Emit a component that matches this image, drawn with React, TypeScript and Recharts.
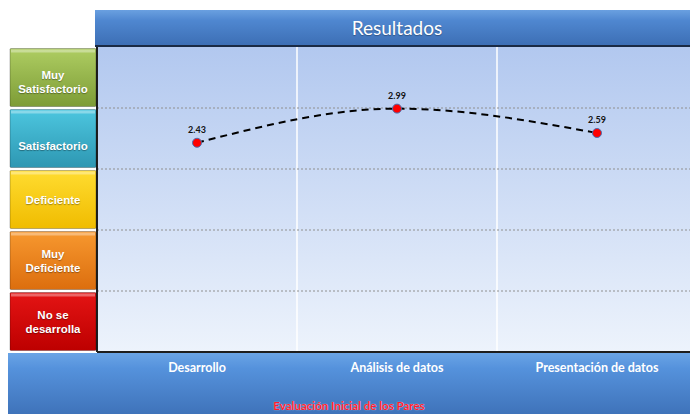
import { LineChart, Line, XAxis, YAxis, CartesianGrid, LabelList } from 'recharts';

const categories = ['Desarrollo', 'Análisis de datos', 'Presentación de datos'];
const scores = [2.43, 2.99, 2.59];
const levelNames = [['Muy', 'Satisfactorio'], ['Satisfactorio'], ['Deficiente'], ['Muy', 'Deficiente'], ['No se', 'desarrolla']];
const levelCenters = [3.5, 2.5, 1.5, 0.5, -0.5];
const gridValues = [0, 1, 2, 3];
const scoreDomain = [-1, 4];

// box gradients (top, bottom) and small vertical nudges of the box text
const levelColors = [
  ['#aecd62', '#7d9c36'],
  ['#4cc6df', '#2e97b2'],
  ['#ffdc30', '#f0bc00'],
  ['#f7982f', '#dc6e0e'],
  ['#e41414', '#bd0000'],
];
const levelTextShift = [4, 7, 0, 0, 0];

const data = categories.map((name, i) => ({ name, score: scores[i] }));

const FONT = 'Lato, "Open Sans", sans-serif';

function LevelTick(props: any) {
  const { y, payload } = props;
  const idx = levelCenters.findIndex((v) => Math.abs(v - Number(payload.value)) < 1e-6);
  if (idx < 0) return null;
  const lines = levelNames[idx];
  const h = 58;
  const ty = y + levelTextShift[idx];
  return (
    <g>
      <rect x={10} y={y - h / 2} width={86} height={h} fill={`url(#lvl${idx})`} stroke="rgba(0,0,0,0.25)" strokeWidth={1} rx={1} />
      <rect x={11} y={y - h / 2 + 1} width={84} height={3} fill="rgba(255,255,255,0.35)" />
      {lines.map((ln, k) => (
        <text
          key={k}
          x={53}
          y={ty + (k - (lines.length - 1) / 2) * 14}
          dy="0.35em"
          textAnchor="middle"
          fill="#fff"
          fontFamily="Arial, 'Liberation Sans', sans-serif"
          fontWeight="bold"
          fontSize={11.5}
          style={{ textShadow: '0 1px 1px rgba(0,0,0,0.35)' }}
        >
          {ln}
        </text>
      ))}
    </g>
  );
}

function CatTick(props: any) {
  const { x, y, payload } = props;
  return (
    <text x={x} y={y} dy={12} textAnchor="middle" fill="#fff" fontFamily={FONT} fontWeight="bold" fontSize={12.5}>
      {payload.value}
    </text>
  );
}

function Dot(props: any) {
  const { cx, cy } = props;
  if (cx == null || cy == null) return null;
  return <circle cx={cx} cy={cy} r={4.5} fill="#ff0000" stroke="#4a6fb0" strokeWidth={1} />;
}

const toY = (offset: any, v: number) =>
  offset.top + (offset.height * (scoreDomain[1] - v)) / (scoreDomain[1] - scoreDomain[0]);

export default function App() {
  return (
    <div style={{ position: 'absolute', left: 0, top: 0, width: 690, height: 414, overflow: 'hidden', background: '#fff' }}>
      <div
        style={{
          position: 'absolute', left: 95, top: 10, width: 602, height: 35,
          background: 'linear-gradient(#6aa0e0 0%, #4f87d0 30%, #3d6fb5 100%)',
          borderBottom: '2px solid #1a2a44',
          color: '#fff', fontFamily: FONT, fontSize: 19,
        }}
      >
        <div style={{ position: 'absolute', left: 2, width: 600, top: 6, textAlign: 'center', textShadow: '0 1px 1px rgba(0,0,0,0.3)' }}>Resultados</div>
      </div>
      <div
        style={{
          position: 'absolute', left: 8, top: 353, width: 690, height: 61,
          background: 'linear-gradient(#6aa4e6 0%, #5592dc 25%, #3f73ba 100%)',
        }}
      >
        <div
          style={{
            position: 'absolute', left: 0, width: 682, top: 47, textAlign: 'center',
            color: '#ff1a2e', fontFamily: FONT, fontWeight: 'bold', fontSize: 11.5, lineHeight: '12px',
            textShadow: '0 0 1px #fff',
          }}
        >
          Evaluación Inicial de los Pares
        </div>
      </div>
      <div style={{ position: 'absolute', left: 0, top: 0 }}>
        <LineChart width={697} height={414} data={data} margin={{ top: 47, right: 0, bottom: 0, left: 10 }}>
          <defs>
            <linearGradient id="plotBg" x1="0" y1="0" x2="0" y2="1">
              <stop offset="0%" stopColor="#b2c8ef" />
              <stop offset="100%" stopColor="#edf3fc" />
            </linearGradient>
            {levelColors.map((c, i) => (
              <linearGradient key={i} id={`lvl${i}`} x1="0" y1="0" x2="0" y2="1">
                <stop offset="0%" stopColor={c[0]} />
                <stop offset="100%" stopColor={c[1]} />
              </linearGradient>
            ))}
          </defs>
          <CartesianGrid
            horizontal={false}
            fill="url(#plotBg)"
            fillOpacity={1}
            stroke="#ffffff"
            strokeWidth={1.5}
            verticalCoordinatesGenerator={({ offset }: any) =>
              categories.slice(1).map((_, i) => offset.left + (offset.width * (i + 1)) / categories.length)
            }
          />
          <CartesianGrid
            vertical={false}
            stroke="#8f8f8f"
            strokeDasharray="2 2"
            strokeWidth={1.2}
            horizontalCoordinatesGenerator={({ offset }: any) => gridValues.map((v) => toY(offset, v))}
          />
          <XAxis
            dataKey="name"
            scale="band"
            height={62}
            axisLine={{ stroke: '#1e1e1e', strokeWidth: 2 }}
            tickLine={false}
            tick={(p: any) => <CatTick {...p} />}
          />
          <YAxis
            width={87}
            domain={scoreDomain}
            ticks={levelCenters}
            type="number"
            axisLine={{ stroke: '#1e1e1e', strokeWidth: 2 }}
            tickLine={false}
            tick={(p: any) => <LevelTick {...p} />}
            interval={0}
          />
          <Line
            type="monotone"
            dataKey="score"
            stroke="#000"
            strokeWidth={2}
            strokeDasharray="7 5"
            dot={(p: any) => <Dot key={p.index} {...p} />}
            activeDot={false}
            isAnimationActive={false}
          >
            <LabelList dataKey="score" position="top" offset={10} fontSize={9} fontWeight="bold" fill="#111" fontFamily={FONT} />
          </Line>
        </LineChart>
      </div>
    </div>
  );
}
